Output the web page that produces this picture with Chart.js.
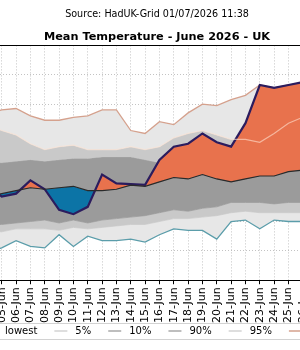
<!DOCTYPE html>
<html>
<head>
<meta charset="utf-8">
<script src="https://cdn.jsdelivr.net/npm/chart.js@4.4.1/dist/chart.umd.min.js"></script>
<style>
  html, body { margin: 0; padding: 0; background: #fff; overflow: hidden; }
  #wrap { position: relative; width: 300px; height: 350px; overflow: hidden; }
  #chart { position: absolute; left: -48px; top: 0; }
</style>
</head>
<body>
<div id="wrap"><canvas id="chart" width="410" height="350"></canvas></div>
<script>
// days of June shown (the picture is a crop of the full month)
const days = [4, 5, 6, 7, 8, 9, 10, 11, 12, 13, 14, 15, 16, 17, 18, 19, 20, 21, 22, 23, 24, 25, 26];
const dayLabels = ['04-Jun', '05-Jun', '06-Jun', '07-Jun', '08-Jun', '09-Jun', '10-Jun', '11-Jun',
  '12-Jun', '13-Jun', '14-Jun', '15-Jun', '16-Jun', '17-Jun', '18-Jun', '19-Jun', '20-Jun',
  '21-Jun', '22-Jun', '23-Jun', '24-Jun', '25-Jun', '26-Jun'];

// daily mean temperature, degC
const lowest  = [9.9, 10.2, 10.7, 10.3, 10.2, 11.1, 10.3, 11.0, 10.7, 10.7, 10.8, 10.6, 11.1, 11.5, 11.4, 11.4, 10.8, 12.0, 12.1, 11.5, 12.1, 12.0, 12.0];
const p5      = [11.3, 11.3, 11.5, 11.5, 11.5, 11.4, 11.6, 11.5, 11.6, 11.7, 11.8, 11.8, 12.0, 12.2, 12.2, 12.3, 12.4, 12.6, 12.7, 12.6, 12.6, 12.6, 12.6];
const p10     = [11.8, 11.8, 11.9, 12.0, 12.1, 11.9, 12.1, 11.9, 12.1, 12.2, 12.3, 12.4, 12.6, 12.8, 12.7, 12.9, 13.0, 13.3, 13.3, 13.3, 13.2, 13.3, 13.3];
const p90     = [16.0, 16.0, 16.1, 16.2, 16.1, 16.2, 16.3, 16.3, 16.4, 16.4, 16.4, 16.2, 16.0, 16.1, 16.2, 16.3, 16.2, 16.1, 16.3, 16.4, 16.5, 16.7, 16.8];
const p95     = [18.6, 18.2, 17.9, 17.3, 16.9, 17.1, 17.2, 16.9, 16.9, 16.9, 17.1, 16.9, 17.1, 17.7, 18.0, 18.2, 17.9, 17.6, 17.6, 17.4, 18.0, 18.7, 19.1];
const highest = [19.3, 19.6, 19.7, 19.2, 18.9, 18.9, 19.1, 19.2, 19.6, 19.6, 18.2, 18.0, 18.8, 18.6, 19.4, 20.0, 19.9, 20.3, 20.6, 21.3, 21.1, 21.3, 21.4];
const mean    = [13.7, 13.9, 14.1, 14.3, 14.2, 14.3, 14.4, 14.1, 14.1, 14.2, 14.48, 14.4, 14.7, 15.0, 14.9, 15.2, 14.9, 14.7, 14.9, 15.1, 15.1, 15.4, 15.5];
const y2026   = [14.5, 13.7, 13.9, 14.8, 14.2, 12.8, 12.5, 13.0, 15.2, 14.6, 14.55, 14.5, 16.2, 17.1, 17.3, 18.0, 17.4, 17.1, 18.7, 21.3, 21.1, 21.3, 21.5];

const pts = arr => days.map((d, i) => ({x: d, y: arr[i]}));

const light = '#e7e7e7', mid = '#c9c9c9', dark = '#9b9b9b';

Chart.defaults.font.family = 'DejaVu Sans';
Chart.defaults.color = '#000';

// top spine + a one-row legend laid out like the original (wider gaps than chart.js gives)
const frame = {
  id: 'frame',
  afterDraw(chart) {
    const {ctx, chartArea: a} = chart;
    ctx.save();
    ctx.strokeStyle = '#000';
    ctx.lineWidth = 1;
    ctx.beginPath();
    ctx.moveTo(a.left, Math.round(a.top) + 0.5);
    ctx.lineTo(a.right, Math.round(a.top) + 0.5);
    ctx.stroke();

    const y = 331;
    ctx.strokeStyle = '#d2d2d2';
    ctx.strokeRect(4.5, y - 7.5, chart.width - 9, 16);
    ctx.font = '10px "DejaVu Sans"';
    ctx.textBaseline = 'middle';
    ctx.fillStyle = '#000';
    let x = 32;
    chart.data.datasets.slice(0, 6).forEach(ds => {
      ctx.strokeStyle = ds.borderColor;
      ctx.lineWidth = 1.5;
      ctx.beginPath();
      ctx.moveTo(x, y);
      ctx.lineTo(x + 13, y);
      ctx.stroke();
      ctx.fillText(ds.label, x + 21, y);
      x += 21 + ctx.measureText(ds.label).width + 17;
    });
    ctx.restore();
  }
};

new Chart(document.getElementById('chart'), {
  type: 'line',
  data: {
    datasets: [
      {label: 'lowest', data: pts(lowest), borderColor: '#5b9daa', borderWidth: 1.3, fill: false, order: 5},
      {label: '5%', data: pts(p5), borderColor: '#d3d3d3', backgroundColor: light, borderWidth: 1, fill: '-1', order: 10},
      {label: '10%', data: pts(p10), borderColor: '#a9a9a9', backgroundColor: mid, borderWidth: 1, fill: '-1', order: 9},
      {label: '90%', data: pts(p90), borderColor: '#a9a9a9', backgroundColor: dark, borderWidth: 1, fill: '-1', order: 8},
      {label: '95%', data: pts(p95), borderColor: '#d3d3d3', backgroundColor: mid, borderWidth: 1, fill: '-1', order: 7},
      {label: 'highest', data: pts(highest), borderColor: '#d5a18d', backgroundColor: light, borderWidth: 1.3, fill: '-1', order: 6},
      {label: 'mean', data: pts(mean), borderColor: '#2a2a2a', borderWidth: 1.2, fill: false, order: 1},
      {label: '2026', data: pts(y2026), borderColor: '#2b1c5e', borderWidth: 2.2,
        fill: {target: 6, above: '#e8724d', below: '#0c74a6'}, order: 3},
      {label: '95% line', data: pts(p95), borderColor: 'rgba(255,228,212,0.6)', borderWidth: 1.2, fill: false, order: 2}
    ]
  },
  options: {
    responsive: false,
    animation: false,
    events: [],
    elements: {point: {radius: 0}, line: {tension: 0}},
    layout: {padding: {bottom: 24}},
    scales: {
      x: {
        type: 'linear',
        min: 1.531,
        max: 29.422,
        z: 1,
        grid: {color: '#b4b4b4', lineWidth: 0.8, tickLength: 4, tickColor: '#000', tickWidth: 1, tickBorderDash: []},
        border: {color: '#000', width: 1, dash: [1, 2]},
        ticks: {
          stepSize: 1, includeBounds: false, autoSkip: false,
          minRotation: 90, maxRotation: 90, padding: 3,
          font: {size: 11},
          callback: v => { const i = days.indexOf(v); return i >= 0 ? dayLabels[i] : ''; }
        }
      },
      y: {
        min: 8,
        max: 24,
        z: 1,
        grid: {color: '#b4b4b4', lineWidth: 0.8, drawTicks: false},
        border: {display: false, dash: [1, 2]},
        ticks: {display: false, stepSize: 2}
      }
    },
    plugins: {
      tooltip: {enabled: false},
      legend: {display: false},
      title: {
        display: true,
        text: 'Source: HadUK-Grid 01/07/2026 11:38',
        font: {size: 9.6, weight: 'normal'},
        padding: {top: 8.6, bottom: 10.3}
      },
      subtitle: {
        display: true,
        text: 'Mean Temperature - June 2026 - UK',
        color: '#000',
        font: {size: 11.3, weight: 'bold'},
        padding: {top: 0, bottom: 1.4}
      }
    }
  },
  plugins: [frame]
});
</script>
</body>
</html>
